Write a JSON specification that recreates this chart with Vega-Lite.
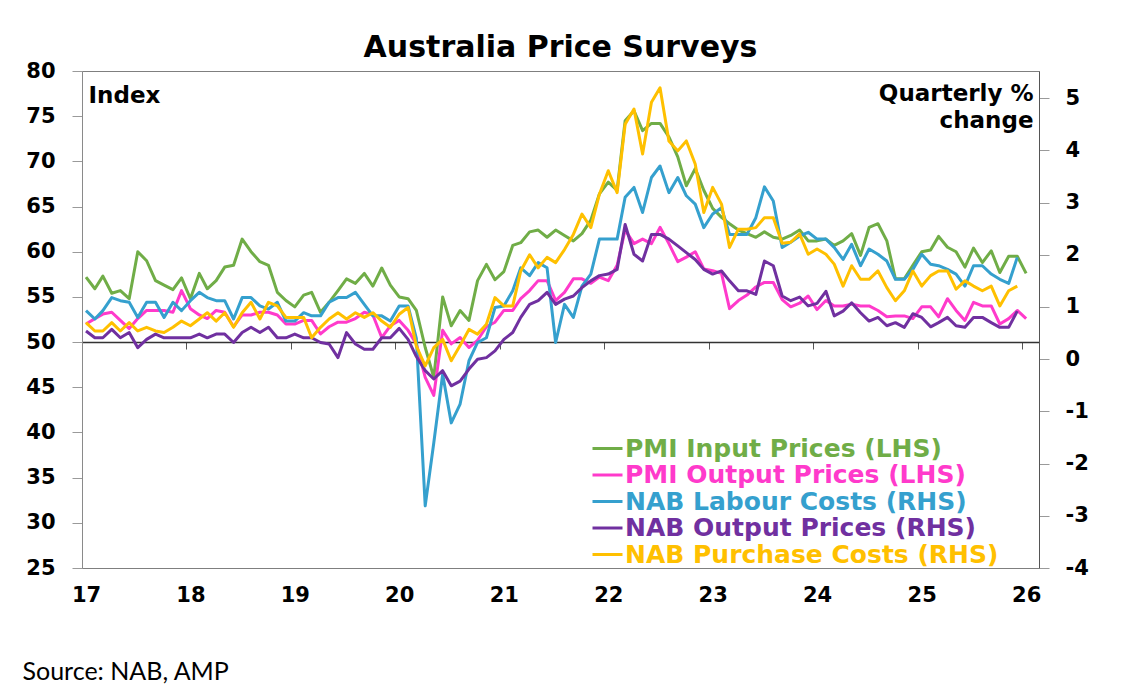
{
  "$schema": "https://vega.github.io/schema/vega-lite/v6.json",
  "description": "Australia price surveys: PMI input/output prices (index, LHS) and NAB labour, output and purchase costs (quarterly % change, RHS).",
  "width": 957,
  "height": 497,
  "autosize": {"type": "none"},
  "padding": {"left": 82, "top": 71, "right": 88, "bottom": 132},
  "background": "white",
  "title": {
    "text": "Australia Price Surveys",
    "anchor": "middle",
    "frame": "group",
    "font": "DejaVu Sans",
    "fontSize": 30,
    "fontWeight": "bold",
    "color": "#000000",
    "offset": -3
  },
  "data": {
    "values": [
      {"m": "2017-01-15", "pi": 57.2, "po": 52.0, "lc": 0.93, "op": 0.54, "pc": 0.70},
      {"m": "2017-02-15", "pi": 55.9, "po": 52.6, "lc": 0.77, "op": 0.41, "pc": 0.54},
      {"m": "2017-03-15", "pi": 57.3, "po": 53.1, "lc": 0.93, "op": 0.41, "pc": 0.54},
      {"m": "2017-04-15", "pi": 55.4, "po": 53.3, "lc": 1.18, "op": 0.57, "pc": 0.70},
      {"m": "2017-05-15", "pi": 55.7, "po": 52.4, "lc": 1.12, "op": 0.41, "pc": 0.54},
      {"m": "2017-06-15", "pi": 54.8, "po": 51.5, "lc": 1.09, "op": 0.51, "pc": 0.70},
      {"m": "2017-07-15", "pi": 60.0, "po": 52.6, "lc": 0.80, "op": 0.22, "pc": 0.54},
      {"m": "2017-08-15", "pi": 59.0, "po": 53.5, "lc": 1.09, "op": 0.38, "pc": 0.61},
      {"m": "2017-09-15", "pi": 56.8, "po": 53.5, "lc": 1.09, "op": 0.48, "pc": 0.54},
      {"m": "2017-10-15", "pi": 56.3, "po": 53.5, "lc": 0.80, "op": 0.41, "pc": 0.51},
      {"m": "2017-11-15", "pi": 55.8, "po": 53.3, "lc": 1.09, "op": 0.41, "pc": 0.61},
      {"m": "2017-12-15", "pi": 57.1, "po": 55.7, "lc": 0.93, "op": 0.41, "pc": 0.73},
      {"m": "2018-01-15", "pi": 54.8, "po": 53.7, "lc": 1.12, "op": 0.41, "pc": 0.64},
      {"m": "2018-02-15", "pi": 57.6, "po": 53.0, "lc": 1.28, "op": 0.48, "pc": 0.77},
      {"m": "2018-03-15", "pi": 55.9, "po": 52.6, "lc": 1.18, "op": 0.41, "pc": 0.89},
      {"m": "2018-04-15", "pi": 56.8, "po": 53.5, "lc": 1.12, "op": 0.48, "pc": 0.73},
      {"m": "2018-05-15", "pi": 58.3, "po": 53.3, "lc": 1.12, "op": 0.48, "pc": 0.89},
      {"m": "2018-06-15", "pi": 58.5, "po": 51.7, "lc": 0.77, "op": 0.32, "pc": 0.61},
      {"m": "2018-07-15", "pi": 61.4, "po": 53.0, "lc": 1.18, "op": 0.51, "pc": 0.89},
      {"m": "2018-08-15", "pi": 60.0, "po": 53.0, "lc": 1.18, "op": 0.61, "pc": 1.09},
      {"m": "2018-09-15", "pi": 58.9, "po": 53.3, "lc": 1.02, "op": 0.51, "pc": 0.77},
      {"m": "2018-10-15", "pi": 58.5, "po": 53.3, "lc": 0.96, "op": 0.61, "pc": 1.09},
      {"m": "2018-11-15", "pi": 55.5, "po": 53.0, "lc": 1.09, "op": 0.41, "pc": 1.02},
      {"m": "2018-12-15", "pi": 54.6, "po": 52.0, "lc": 0.73, "op": 0.41, "pc": 0.80},
      {"m": "2019-01-15", "pi": 53.9, "po": 52.0, "lc": 0.73, "op": 0.48, "pc": 0.80},
      {"m": "2019-02-15", "pi": 55.2, "po": 52.4, "lc": 0.89, "op": 0.41, "pc": 0.80},
      {"m": "2019-03-15", "pi": 55.5, "po": 52.4, "lc": 0.83, "op": 0.41, "pc": 0.41},
      {"m": "2019-04-15", "pi": 53.3, "po": 50.9, "lc": 0.83, "op": 0.32, "pc": 0.61},
      {"m": "2019-05-15", "pi": 54.4, "po": 51.7, "lc": 1.09, "op": 0.29, "pc": 0.77},
      {"m": "2019-06-15", "pi": 55.7, "po": 52.2, "lc": 1.18, "op": 0.03, "pc": 0.89},
      {"m": "2019-07-15", "pi": 57.0, "po": 52.2, "lc": 1.18, "op": 0.51, "pc": 0.77},
      {"m": "2019-08-15", "pi": 56.5, "po": 52.6, "lc": 1.28, "op": 0.29, "pc": 0.89},
      {"m": "2019-09-15", "pi": 57.6, "po": 53.3, "lc": 1.05, "op": 0.19, "pc": 0.80},
      {"m": "2019-10-15", "pi": 56.2, "po": 53.0, "lc": 0.83, "op": 0.19, "pc": 0.89},
      {"m": "2019-11-15", "pi": 58.2, "po": 50.5, "lc": 0.83, "op": 0.41, "pc": 0.73},
      {"m": "2019-12-15", "pi": 56.3, "po": 51.8, "lc": 0.73, "op": 0.41, "pc": 0.61},
      {"m": "2020-01-15", "pi": 55.0, "po": 52.4, "lc": 1.02, "op": 0.59, "pc": 0.86},
      {"m": "2020-02-15", "pi": 54.8, "po": 51.3, "lc": 1.02, "op": 0.38, "pc": 0.99},
      {"m": "2020-03-15", "pi": 53.5, "po": 49.8, "lc": 0.40, "op": 0.05, "pc": 0.25},
      {"m": "2020-04-15", "pi": 49.4, "po": 46.1, "lc": -2.81, "op": -0.22, "pc": -0.13},
      {"m": "2020-05-15", "pi": 46.1, "po": 44.1, "lc": -1.60, "op": -0.38, "pc": 0.22},
      {"m": "2020-06-15", "pi": 55.0, "po": 51.3, "lc": -0.29, "op": -0.22, "pc": 0.38},
      {"m": "2020-07-15", "pi": 51.8, "po": 49.8, "lc": -1.22, "op": -0.51, "pc": -0.03},
      {"m": "2020-08-15", "pi": 53.5, "po": 50.5, "lc": -0.86, "op": -0.42, "pc": 0.26},
      {"m": "2020-09-15", "pi": 52.4, "po": 49.4, "lc": -0.03, "op": -0.19, "pc": 0.57},
      {"m": "2020-10-15", "pi": 56.8, "po": 50.2, "lc": 0.32, "op": 0.00, "pc": 0.48},
      {"m": "2020-11-15", "pi": 58.6, "po": 51.7, "lc": 0.41, "op": 0.03, "pc": 0.67},
      {"m": "2020-12-15", "pi": 56.9, "po": 52.2, "lc": 0.99, "op": 0.16, "pc": 1.18},
      {"m": "2021-01-15", "pi": 57.8, "po": 53.5, "lc": 1.02, "op": 0.38, "pc": 1.02},
      {"m": "2021-02-15", "pi": 60.7, "po": 53.5, "lc": 1.31, "op": 0.51, "pc": 1.02},
      {"m": "2021-03-15", "pi": 61.0, "po": 54.8, "lc": 1.75, "op": 0.80, "pc": 1.69},
      {"m": "2021-04-15", "pi": 62.2, "po": 55.7, "lc": 1.60, "op": 1.05, "pc": 2.00},
      {"m": "2021-05-15", "pi": 62.4, "po": 56.8, "lc": 1.85, "op": 1.12, "pc": 1.75},
      {"m": "2021-06-15", "pi": 61.6, "po": 56.8, "lc": 1.75, "op": 1.28, "pc": 1.95},
      {"m": "2021-07-15", "pi": 62.4, "po": 54.6, "lc": 0.32, "op": 1.05, "pc": 1.85},
      {"m": "2021-08-15", "pi": 61.8, "po": 55.5, "lc": 1.05, "op": 1.15, "pc": 2.10},
      {"m": "2021-09-15", "pi": 61.2, "po": 57.0, "lc": 0.80, "op": 1.21, "pc": 2.39},
      {"m": "2021-10-15", "pi": 62.0, "po": 57.0, "lc": 1.40, "op": 1.37, "pc": 2.78},
      {"m": "2021-11-15", "pi": 63.5, "po": 56.5, "lc": 1.63, "op": 1.50, "pc": 2.52},
      {"m": "2021-12-15", "pi": 66.4, "po": 57.2, "lc": 2.30, "op": 1.60, "pc": 3.16},
      {"m": "2022-01-15", "pi": 67.7, "po": 56.8, "lc": 2.30, "op": 1.63, "pc": 3.61},
      {"m": "2022-02-15", "pi": 66.8, "po": 58.5, "lc": 2.30, "op": 1.72, "pc": 3.19},
      {"m": "2022-03-15", "pi": 74.5, "po": 62.4, "lc": 3.10, "op": 2.58, "pc": 4.50},
      {"m": "2022-04-15", "pi": 75.6, "po": 60.9, "lc": 3.29, "op": 2.01, "pc": 4.79},
      {"m": "2022-05-15", "pi": 73.4, "po": 61.4, "lc": 2.81, "op": 1.88, "pc": 3.93},
      {"m": "2022-06-15", "pi": 74.2, "po": 60.9, "lc": 3.48, "op": 2.39, "pc": 4.92},
      {"m": "2022-07-15", "pi": 74.2, "po": 62.7, "lc": 3.70, "op": 2.39, "pc": 5.20},
      {"m": "2022-08-15", "pi": 72.7, "po": 60.9, "lc": 3.19, "op": 2.30, "pc": 4.18},
      {"m": "2022-09-15", "pi": 70.5, "po": 58.9, "lc": 3.48, "op": 2.17, "pc": 3.99},
      {"m": "2022-10-15", "pi": 67.3, "po": 59.4, "lc": 3.13, "op": 2.04, "pc": 4.18},
      {"m": "2022-11-15", "pi": 69.2, "po": 60.0, "lc": 2.97, "op": 1.91, "pc": 3.74},
      {"m": "2022-12-15", "pi": 66.8, "po": 58.1, "lc": 2.52, "op": 1.72, "pc": 2.81},
      {"m": "2023-01-15", "pi": 64.8, "po": 57.9, "lc": 2.78, "op": 1.63, "pc": 3.29},
      {"m": "2023-02-15", "pi": 63.8, "po": 57.6, "lc": 2.90, "op": 1.69, "pc": 2.97},
      {"m": "2023-03-15", "pi": 63.1, "po": 53.7, "lc": 2.39, "op": 1.50, "pc": 2.14},
      {"m": "2023-04-15", "pi": 62.4, "po": 54.6, "lc": 2.39, "op": 1.31, "pc": 2.49},
      {"m": "2023-05-15", "pi": 62.0, "po": 55.2, "lc": 2.39, "op": 1.31, "pc": 2.49},
      {"m": "2023-06-15", "pi": 61.6, "po": 56.1, "lc": 2.71, "op": 1.24, "pc": 2.52},
      {"m": "2023-07-15", "pi": 62.2, "po": 56.6, "lc": 3.30, "op": 1.88, "pc": 2.71},
      {"m": "2023-08-15", "pi": 61.6, "po": 56.6, "lc": 3.03, "op": 1.79, "pc": 2.71},
      {"m": "2023-09-15", "pi": 61.4, "po": 54.7, "lc": 2.14, "op": 1.21, "pc": 2.22},
      {"m": "2023-10-15", "pi": 61.8, "po": 53.9, "lc": 2.24, "op": 1.12, "pc": 2.24},
      {"m": "2023-11-15", "pi": 62.4, "po": 54.3, "lc": 2.36, "op": 1.19, "pc": 2.40},
      {"m": "2023-12-15", "pi": 61.2, "po": 55.1, "lc": 2.43, "op": 1.02, "pc": 2.01},
      {"m": "2024-01-15", "pi": 61.2, "po": 53.6, "lc": 2.30, "op": 1.07, "pc": 2.11},
      {"m": "2024-02-15", "pi": 61.4, "po": 54.6, "lc": 2.30, "op": 1.30, "pc": 2.01},
      {"m": "2024-03-15", "pi": 60.7, "po": 54.0, "lc": 2.14, "op": 0.83, "pc": 1.82},
      {"m": "2024-04-15", "pi": 61.2, "po": 54.0, "lc": 1.91, "op": 0.92, "pc": 1.40},
      {"m": "2024-05-15", "pi": 62.0, "po": 54.2, "lc": 2.20, "op": 1.08, "pc": 1.79},
      {"m": "2024-06-15", "pi": 59.6, "po": 54.0, "lc": 1.79, "op": 0.89, "pc": 1.53},
      {"m": "2024-07-15", "pi": 62.7, "po": 54.0, "lc": 2.11, "op": 0.73, "pc": 1.53},
      {"m": "2024-08-15", "pi": 63.1, "po": 53.5, "lc": 2.01, "op": 0.80, "pc": 1.69},
      {"m": "2024-09-15", "pi": 61.2, "po": 52.8, "lc": 1.88, "op": 0.64, "pc": 1.37},
      {"m": "2024-10-15", "pi": 57.0, "po": 52.9, "lc": 1.53, "op": 0.70, "pc": 1.12},
      {"m": "2024-11-15", "pi": 57.0, "po": 52.9, "lc": 1.53, "op": 0.61, "pc": 1.31},
      {"m": "2024-12-15", "pi": 58.5, "po": 52.6, "lc": 1.72, "op": 0.87, "pc": 1.69},
      {"m": "2025-01-15", "pi": 60.0, "po": 53.9, "lc": 2.01, "op": 0.80, "pc": 1.40},
      {"m": "2025-02-15", "pi": 60.2, "po": 53.9, "lc": 1.82, "op": 0.62, "pc": 1.60},
      {"m": "2025-03-15", "pi": 61.7, "po": 52.8, "lc": 1.79, "op": 0.70, "pc": 1.69},
      {"m": "2025-04-15", "pi": 60.5, "po": 54.8, "lc": 1.72, "op": 0.80, "pc": 1.69},
      {"m": "2025-05-15", "pi": 60.0, "po": 53.5, "lc": 1.63, "op": 0.64, "pc": 1.34},
      {"m": "2025-06-15", "pi": 58.3, "po": 52.4, "lc": 1.40, "op": 0.61, "pc": 1.50},
      {"m": "2025-07-15", "pi": 60.4, "po": 54.4, "lc": 1.79, "op": 0.80, "pc": 1.40},
      {"m": "2025-08-15", "pi": 58.8, "po": 54.0, "lc": 1.79, "op": 0.80, "pc": 1.31},
      {"m": "2025-09-15", "pi": 60.1, "po": 54.0, "lc": 1.63, "op": 0.70, "pc": 1.40},
      {"m": "2025-10-15", "pi": 57.7, "po": 52.0, "lc": 1.53, "op": 0.61, "pc": 1.02},
      {"m": "2025-11-15", "pi": 59.5, "po": 52.6, "lc": 1.45, "op": 0.61, "pc": 1.31},
      {"m": "2025-12-15", "pi": 59.5, "po": 53.5, "lc": 1.95, "op": 0.92, "pc": 1.40},
      {"m": "2026-01-15", "pi": 57.6, "po": 52.6, "lc": null, "op": null, "pc": null}
    ]
  },
  "layer": [
    {
      "transform": [{"fold": ["pi", "po"], "as": ["series", "value"]}],
      "mark": {"type": "line", "strokeWidth": 3, "strokeJoin": "round"},
      "encoding": {
        "x": {
          "field": "m",
          "type": "temporal",
          "scale": {
            "type": "utc",
            "domain": [
              {"year": 2017, "month": 1, "date": 1, "utc": true},
              {"year": 2026, "month": 3, "date": 1, "utc": true}
            ]
          },
          "axis": {
            "orient": "bottom",
            "format": "%y",
            "values": [
              {"year": 2017, "month": 1, "date": 1, "utc": true},
              {"year": 2018, "month": 1, "date": 1, "utc": true},
              {"year": 2019, "month": 1, "date": 1, "utc": true},
              {"year": 2020, "month": 1, "date": 1, "utc": true},
              {"year": 2021, "month": 1, "date": 1, "utc": true},
              {"year": 2022, "month": 1, "date": 1, "utc": true},
              {"year": 2023, "month": 1, "date": 1, "utc": true},
              {"year": 2024, "month": 1, "date": 1, "utc": true},
              {"year": 2025, "month": 1, "date": 1, "utc": true},
              {"year": 2026, "month": 1, "date": 1, "utc": true}
            ],
            "domain": false,
            "ticks": false,
            "labelPadding": 16,
            "labelOffset": 4,
            "labelFlush": false,
            "labelOverlap": false,
            "labelFont": "DejaVu Sans",
            "labelFontWeight": "bold",
            "labelFontSize": 21,
            "labelColor": "#000000",
            "title": "Source: NAB, AMP",
            "titleFont": "Lato",
            "titleFontWeight": "normal",
            "titleFontSize": 25,
            "titleColor": "#000000",
            "titleAlign": "left",
            "titleBaseline": "alphabetic",
            "titleX": -60,
            "titleY": 111
          }
        },
        "y": {
          "field": "value",
          "type": "quantitative",
          "scale": {"domain": [25, 80], "nice": false, "zero": false},
          "axis": {
            "orient": "left",
            "values": [25, 30, 35, 40, 45, 50, 55, 60, 65, 70, 75, 80],
            "grid": false,
            "tickSize": 10,
            "tickColor": "#9a9a9a",
            "domainColor": "#8a8a8a",
            "labelPadding": 17,
            "labelFont": "DejaVu Sans",
            "labelFontWeight": "bold",
            "labelFontSize": 21,
            "labelColor": "#000000",
            "title": "Index",
            "titleAngle": 0,
            "titleAlign": "left",
            "titleBaseline": "alphabetic",
            "titleX": 6,
            "titleY": 31,
            "titleFont": "DejaVu Sans",
            "titleFontWeight": "bold",
            "titleFontSize": 23,
            "titleColor": "#000000"
          }
        },
        "color": {
          "field": "series",
          "type": "nominal",
          "scale": {
            "domain": ["pi", "po", "lc", "op", "pc"],
            "range": ["#70AD47", "#FF3ACB", "#35A0CE", "#7030A0", "#FFC000"]
          },
          "legend": {
            "orient": "none",
            "legendX": 513,
            "legendY": 365,
            "title": null,
            "padding": 0,
            "symbolType": "M-1.5,0H1.5",
            "symbolSize": 400,
            "symbolStrokeWidth": 3,
            "rowPadding": 0.5,
            "labelOffset": 5,
            "labelLimit": 500,
            "labelFont": "DejaVu Sans",
            "labelFontWeight": "bold",
            "labelFontSize": 25,
            "labelColor": {"expr": "scale('color', datum.value)"},
            "labelExpr": "datum.value == 'pi' ? 'PMI Input Prices (LHS)' : datum.value == 'po' ? 'PMI Output Prices (LHS)' : datum.value == 'lc' ? 'NAB Labour Costs (RHS)' : datum.value == 'op' ? 'NAB Output Prices (RHS)' : 'NAB Purchase Costs (RHS)'"
          }
        }
      }
    },
    {
      "transform": [{"fold": ["lc", "op", "pc"], "as": ["series", "value"]}],
      "mark": {"type": "line", "strokeWidth": 3, "strokeJoin": "round"},
      "encoding": {
        "x": {
          "field": "m",
          "type": "temporal",
          "scale": {
            "type": "utc",
            "domain": [
              {"year": 2017, "month": 1, "date": 1, "utc": true},
              {"year": 2026, "month": 3, "date": 1, "utc": true}
            ]
          },
          "axis": {
            "orient": "bottom",
            "offset": -226,
            "values": [
              {"year": 2017, "month": 1, "date": 1, "utc": true},
              {"year": 2018, "month": 1, "date": 1, "utc": true},
              {"year": 2019, "month": 1, "date": 1, "utc": true},
              {"year": 2020, "month": 1, "date": 1, "utc": true},
              {"year": 2021, "month": 1, "date": 1, "utc": true},
              {"year": 2022, "month": 1, "date": 1, "utc": true},
              {"year": 2023, "month": 1, "date": 1, "utc": true},
              {"year": 2024, "month": 1, "date": 1, "utc": true},
              {"year": 2025, "month": 1, "date": 1, "utc": true},
              {"year": 2026, "month": 1, "date": 1, "utc": true}
            ],
            "labels": false,
            "title": null,
            "grid": false,
            "domain": true,
            "domainColor": "#333333",
            "domainWidth": 1.5,
            "ticks": true,
            "tickSize": 7,
            "tickColor": "#555555"
          }
        },
        "y": {
          "field": "value",
          "type": "quantitative",
          "scale": {"domain": [-4, 5.52], "nice": false, "zero": false},
          "axis": {
            "orient": "right",
            "values": [-4, -3, -2, -1, 0, 1, 2, 3, 4, 5],
            "labelExpr": "datum.value < 0 ? '-' + abs(datum.value) : '' + datum.value",
            "grid": false,
            "tickSize": 10,
            "tickColor": "#9a9a9a",
            "domainColor": "#555555",
            "labelPadding": 16,
            "labelFont": "DejaVu Sans",
            "labelFontWeight": "bold",
            "labelFontSize": 21,
            "labelColor": "#000000",
            "title": ["Quarterly %", "change"],
            "titleAngle": 0,
            "titleAlign": "right",
            "titleBaseline": "alphabetic",
            "titleLineHeight": 27,
            "titleX": -6,
            "titleY": 29,
            "titleFont": "DejaVu Sans",
            "titleFontWeight": "bold",
            "titleFontSize": 23,
            "titleColor": "#000000"
          }
        },
        "color": {
          "field": "series",
          "type": "nominal",
          "scale": {
            "domain": ["pi", "po", "lc", "op", "pc"],
            "range": ["#70AD47", "#FF3ACB", "#35A0CE", "#7030A0", "#FFC000"]
          }
        }
      }
    }
  ],
  "resolve": {
    "scale": {"y": "independent"},
    "axis": {"x": "independent", "y": "independent"}
  },
  "config": {
    "view": {"stroke": "#7f7f7f", "strokeWidth": 1},
    "axis": {"grid": false}
  }
}
